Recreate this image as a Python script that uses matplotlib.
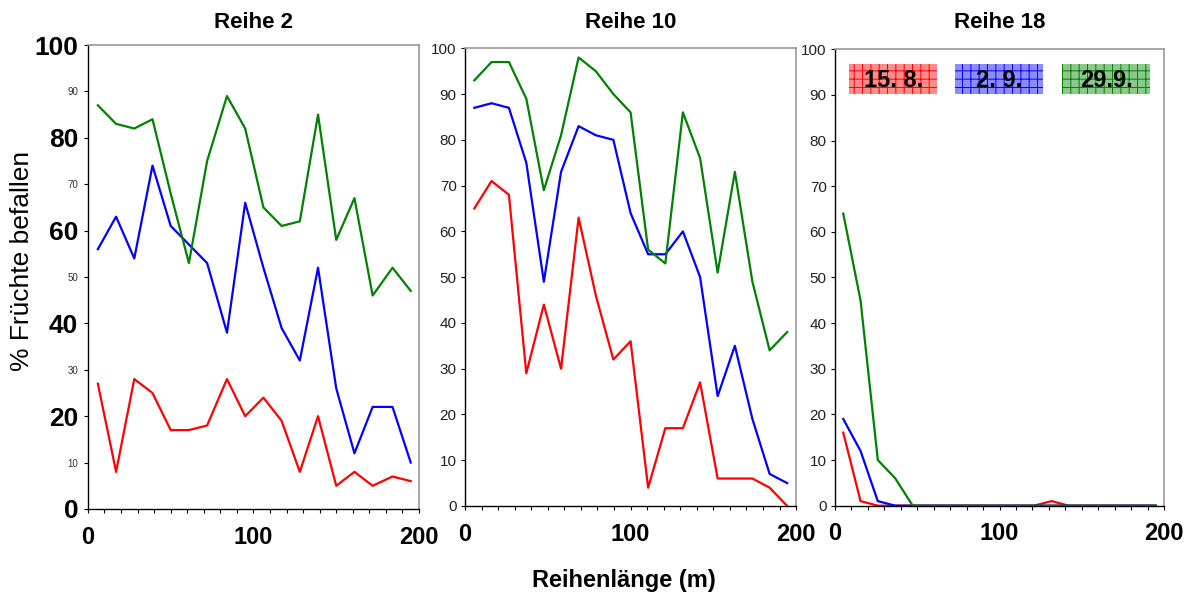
import matplotlib
matplotlib.use("Agg")
import matplotlib.pyplot as plt
from matplotlib.patches import Rectangle
from matplotlib.ticker import MultipleLocator, FixedLocator

plt.rcParams['font.family'] = ['Liberation Sans', 'DejaVu Sans']
plt.rcParams['hatch.linewidth'] = 0.7

# distances along the row (m)
x_r2 = [6, 17, 28, 39, 50, 61, 72, 84, 95, 106, 117, 128, 139, 150, 161, 172, 184, 195]
x_r10 = [5.6, 16, 26.5, 37, 47.6, 58, 68.6, 79, 89.6, 100, 110.6, 121, 131.6, 142, 152.6, 163, 173.6, 184, 194.6]
x_r18 = [5, 15.5, 26, 36.6, 47.2, 57.8, 68.3, 78.9, 89.4, 100, 110.5, 121, 131.6, 142, 152.7, 163, 173.8, 184.4, 195]

# % infested fruits, per date
r2_aug15 = [27, 8, 28, 25, 17, 17, 18, 28, 20, 24, 19, 8, 20, 5, 8, 5, 7, 6]
r2_sep2 = [56, 63, 54, 74, 61, 57, 53, 38, 66, 52, 39, 32, 52, 26, 12, 22, 22, 10]
r2_sep29 = [87, 83, 82, 84, 68, 53, 75, 89, 82, 65, 61, 62, 85, 58, 67, 46, 52, 47]

r10_aug15 = [65, 71, 68, 29, 44, 30, 63, 46, 32, 36, 4, 17, 17, 27, 6, 6, 6, 4, 0]
r10_sep2 = [87, 88, 87, 75, 49, 73, 83, 81, 80, 64, 55, 55, 60, 50, 24, 35, 19, 7, 5]
r10_sep29 = [93, 97, 97, 89, 69, 81, 98, 95, 90, 86, 56, 53, 86, 76, 51, 73, 49, 34, 38]

r18_aug15 = [16, 1, 0, 0, 0, 0, 0, 0, 0, 0, 0, 0, 1, 0, 0, 0, 0, 0, 0]
r18_sep2 = [19, 12, 1, 0, 0, 0, 0, 0, 0, 0, 0, 0, 0, 0, 0, 0, 0, 0, 0]
r18_sep29 = [64, 45, 10, 6, 0, 0, 0, 0, 0, 0, 0, 0, 0, 0, 0, 0, 0, 0, 0]

titles = ["Reihe 2", "Reihe 10", "Reihe 18"]
dates = ["15. 8.", "2. 9.", "29.9."]
colors = ["#ff0000", "#0000ff", "#008000"]
fills = ["#ff8c8c", "#8c8cff", "#8cc88c"]

fig = plt.figure(figsize=(11.9, 6.01), dpi=100)
positions = [
    [0.0739, 0.1531, 0.2782, 0.7720],
    [0.3908, 0.1581, 0.2782, 0.7615],
    [0.7017, 0.1586, 0.2765, 0.7594],
]
panels = [
    (x_r2, [r2_aug15, r2_sep2, r2_sep29]),
    (x_r10, [r10_aug15, r10_sep2, r10_sep29]),
    (x_r18, [r18_aug15, r18_sep2, r18_sep29]),
]

axes = []
for i, (pos, (xs, series)) in enumerate(zip(positions, panels)):
    ax = fig.add_axes(pos)
    axes.append(ax)
    for ys, c in zip(series, colors):
        ax.plot(xs, ys, color=c, lw=1.6, clip_on=False)
    ax.set_xlim(0, 200)
    ax.set_ylim(0, 100)
    # titles all on one line above the panels
    fig.text(pos[0] + pos[2] / 2, 1 - 22 / 601, titles[i], ha='center', va='center',
             fontsize=16, fontweight='bold')

    ax.spines['left'].set_color('black')
    ax.spines['bottom'].set_color('black')
    ax.spines['left'].set_linewidth(1.0)
    ax.spines['bottom'].set_linewidth(1.0)
    for s in ['top', 'right']:
        ax.spines[s].set_color('#999999')
        ax.spines[s].set_linewidth(1.2)

    ax.xaxis.set_major_locator(FixedLocator([0, 100, 200]))
    ax.xaxis.set_minor_locator(MultipleLocator(10))
    ax.tick_params(axis='x', which='both', direction='out', length=3, width=0.8)
    ax.tick_params(axis='x', which='major', labelsize=17, pad=9)
    for lab in ax.get_xticklabels():
        lab.set_fontweight('bold')

    if i == 0:
        ax.yaxis.set_major_locator(MultipleLocator(20))
        ax.yaxis.set_minor_locator(FixedLocator([10, 30, 50, 70, 90]))
        ax.tick_params(axis='y', which='both', direction='out', length=3, width=0.8)
        ax.tick_params(axis='y', which='major', labelsize=19, pad=4)
        ax.tick_params(axis='y', which='minor', labelsize=7, labelcolor='#333333', pad=4,
                       labelleft=True)
        ax.yaxis.set_minor_formatter(plt.FuncFormatter(lambda v, p: f"{v:.0f}"))
        for lab in ax.get_yticklabels():
            lab.set_fontweight('bold')
    else:
        ax.yaxis.set_major_locator(MultipleLocator(10))
        ax.tick_params(axis='y', which='major', direction='out', length=3, width=0.8,
                       labelsize=11, labelcolor='#222222', pad=3)

# legend boxes in the last panel
ax3 = axes[2]
box_x = [0.043, 0.365, 0.69]
for bx, lab, c, f in zip(box_x, dates, colors, fills):
    rect = Rectangle((bx, 0.901), 0.268, 0.066, transform=ax3.transAxes,
                     facecolor=f, edgecolor=c, hatch='++', lw=0)
    ax3.add_patch(rect)
    ax3.text(bx + 0.134, 0.932, lab, transform=ax3.transAxes, ha='center', va='center',
             fontsize=17, fontweight='bold')

fig.text(22 / 1190, 1 - 261 / 601, "% Früchte befallen", rotation=90, ha='center',
         va='center', fontsize=19)
fig.text(0.524, 1 - 580 / 601, "Reihenlänge (m)", ha='center', va='center', fontsize=17,
         fontweight='bold')

fig.savefig("out.png", dpi=100)
